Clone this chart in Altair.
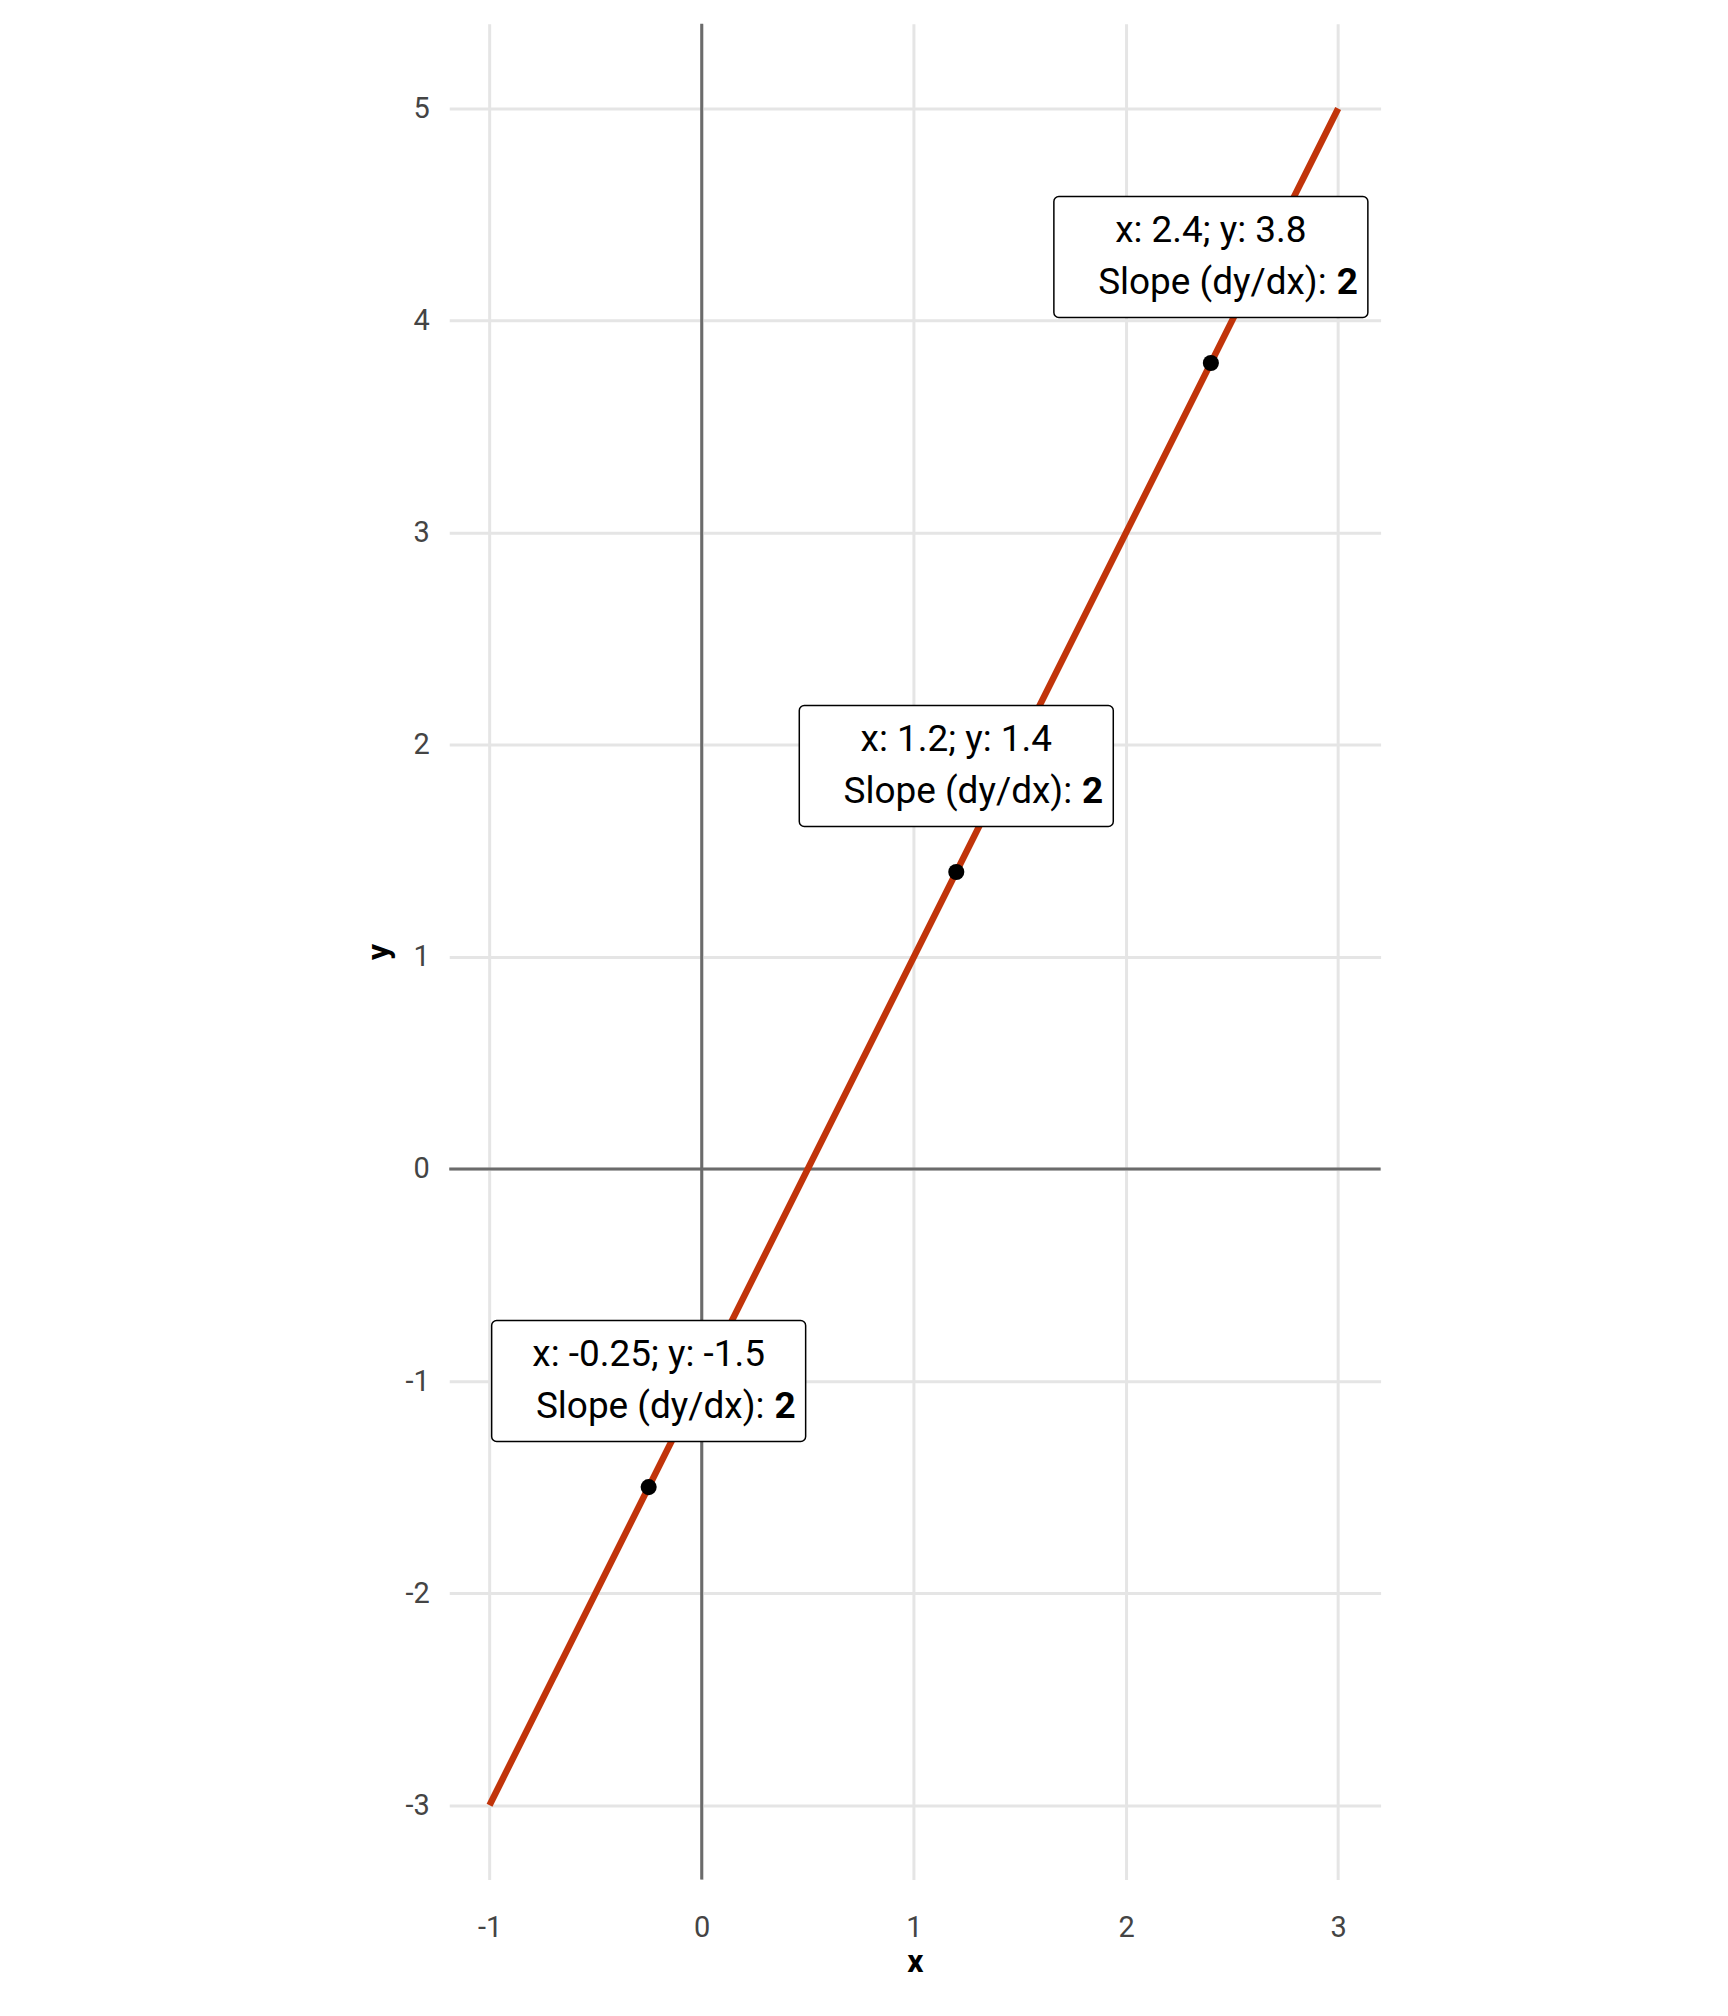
import altair as alt
import pandas as pd

line_x = [-1, 3]
line_y = [-3, 5]
pt_x = [-0.25, 1.2, 2.4]
pt_y = [-1.5, 1.4, 3.8]
pt_lab = ["x: -0.25; y: -1.5", "x: 1.2; y: 1.4", "x: 2.4; y: 3.8"]
slope = ["2", "2", "2"]

line_df = pd.DataFrame({"x": line_x, "y": line_y})
pts = pd.DataFrame({"x": pt_x, "y": pt_y, "lab": pt_lab, "slope": slope})
pts["by"] = pts["y"] + 0.5
pts["bx1"] = pts["x"] - 0.74
pts["bx2"] = pts["x"] + 0.74
pts["by1"] = pts["by"] - 0.285
pts["by2"] = pts["by"] + 0.285

xs = alt.Scale(domain=[-1.19, 3.2], nice=False, zero=False)
ys = alt.Scale(domain=[-3.35, 5.4], nice=False, zero=False)
FONT = "Roboto"

axis_common = dict(domain=False, ticks=False, gridColor="#e5e5e5", gridWidth=3,
                   labelColor="#444444", labelFontSize=29, labelFont=FONT,
                   labelExpr="datum.value + ''",
                   titleFontSize=32, titleFont=FONT, titleFontWeight="bold",
                   titleColor="black")

base_axes = alt.Chart(line_df).mark_line(color="#c1340a", strokeWidth=6.5).encode(
    x=alt.X("x:Q", scale=xs, title="x",
            axis=alt.Axis(values=[-1, 0, 1, 2, 3], labelPadding=34, titlePadding=4, **axis_common)),
    y=alt.Y("y:Q", scale=ys, title="y",
            axis=alt.Axis(values=list(range(-3, 6)), labelPadding=20, titlePadding=10, **axis_common)),
)

zero_df = pd.DataFrame({"z": [0]})
vzero = alt.Chart(zero_df).mark_rule(color="#6b6b6b", strokeWidth=3).encode(x=alt.X("z:Q", scale=xs))
hzero = alt.Chart(zero_df).mark_rule(color="#6b6b6b", strokeWidth=3).encode(y=alt.Y("z:Q", scale=ys))

points = alt.Chart(pts).mark_circle(color="black", size=260, opacity=1).encode(
    x=alt.X("x:Q", scale=xs), y=alt.Y("y:Q", scale=ys))

boxes = alt.Chart(pts).mark_rect(fill="white", stroke="black", strokeWidth=1.5, cornerRadius=5).encode(
    x=alt.X("bx1:Q", scale=xs), x2="bx2:Q", y=alt.Y("by1:Q", scale=ys), y2="by2:Q")

line1 = alt.Chart(pts).mark_text(font=FONT, fontSize=37, dy=-26, color="black").encode(
    x=alt.X("x:Q", scale=xs), y=alt.Y("by:Q", scale=ys), text="lab:N")
line2 = alt.Chart(pts).mark_text(font=FONT, fontSize=37, dy=26, dx=116, align="right", color="black").encode(
    x=alt.X("x:Q", scale=xs), y=alt.Y("by:Q", scale=ys), text=alt.value("Slope (dy/dx):"))
line2b = alt.Chart(pts).mark_text(font=FONT, fontSize=37, dy=26, dx=126, align="left",
                                  fontWeight="bold", color="black").encode(
    x=alt.X("x:Q", scale=xs), y=alt.Y("by:Q", scale=ys), text="slope:N")

chart = alt.layer(vzero, hzero, base_axes, points, boxes, line1, line2, line2b).properties(
    width=933, height=1859,
    autosize=alt.AutoSizeParams(type="none"),
    padding={"left": 442, "top": 14, "right": 340, "bottom": 120},
).configure_view(stroke=None)

chart.save("out.html", embed_options={"renderer": "svg", "actions": False})
